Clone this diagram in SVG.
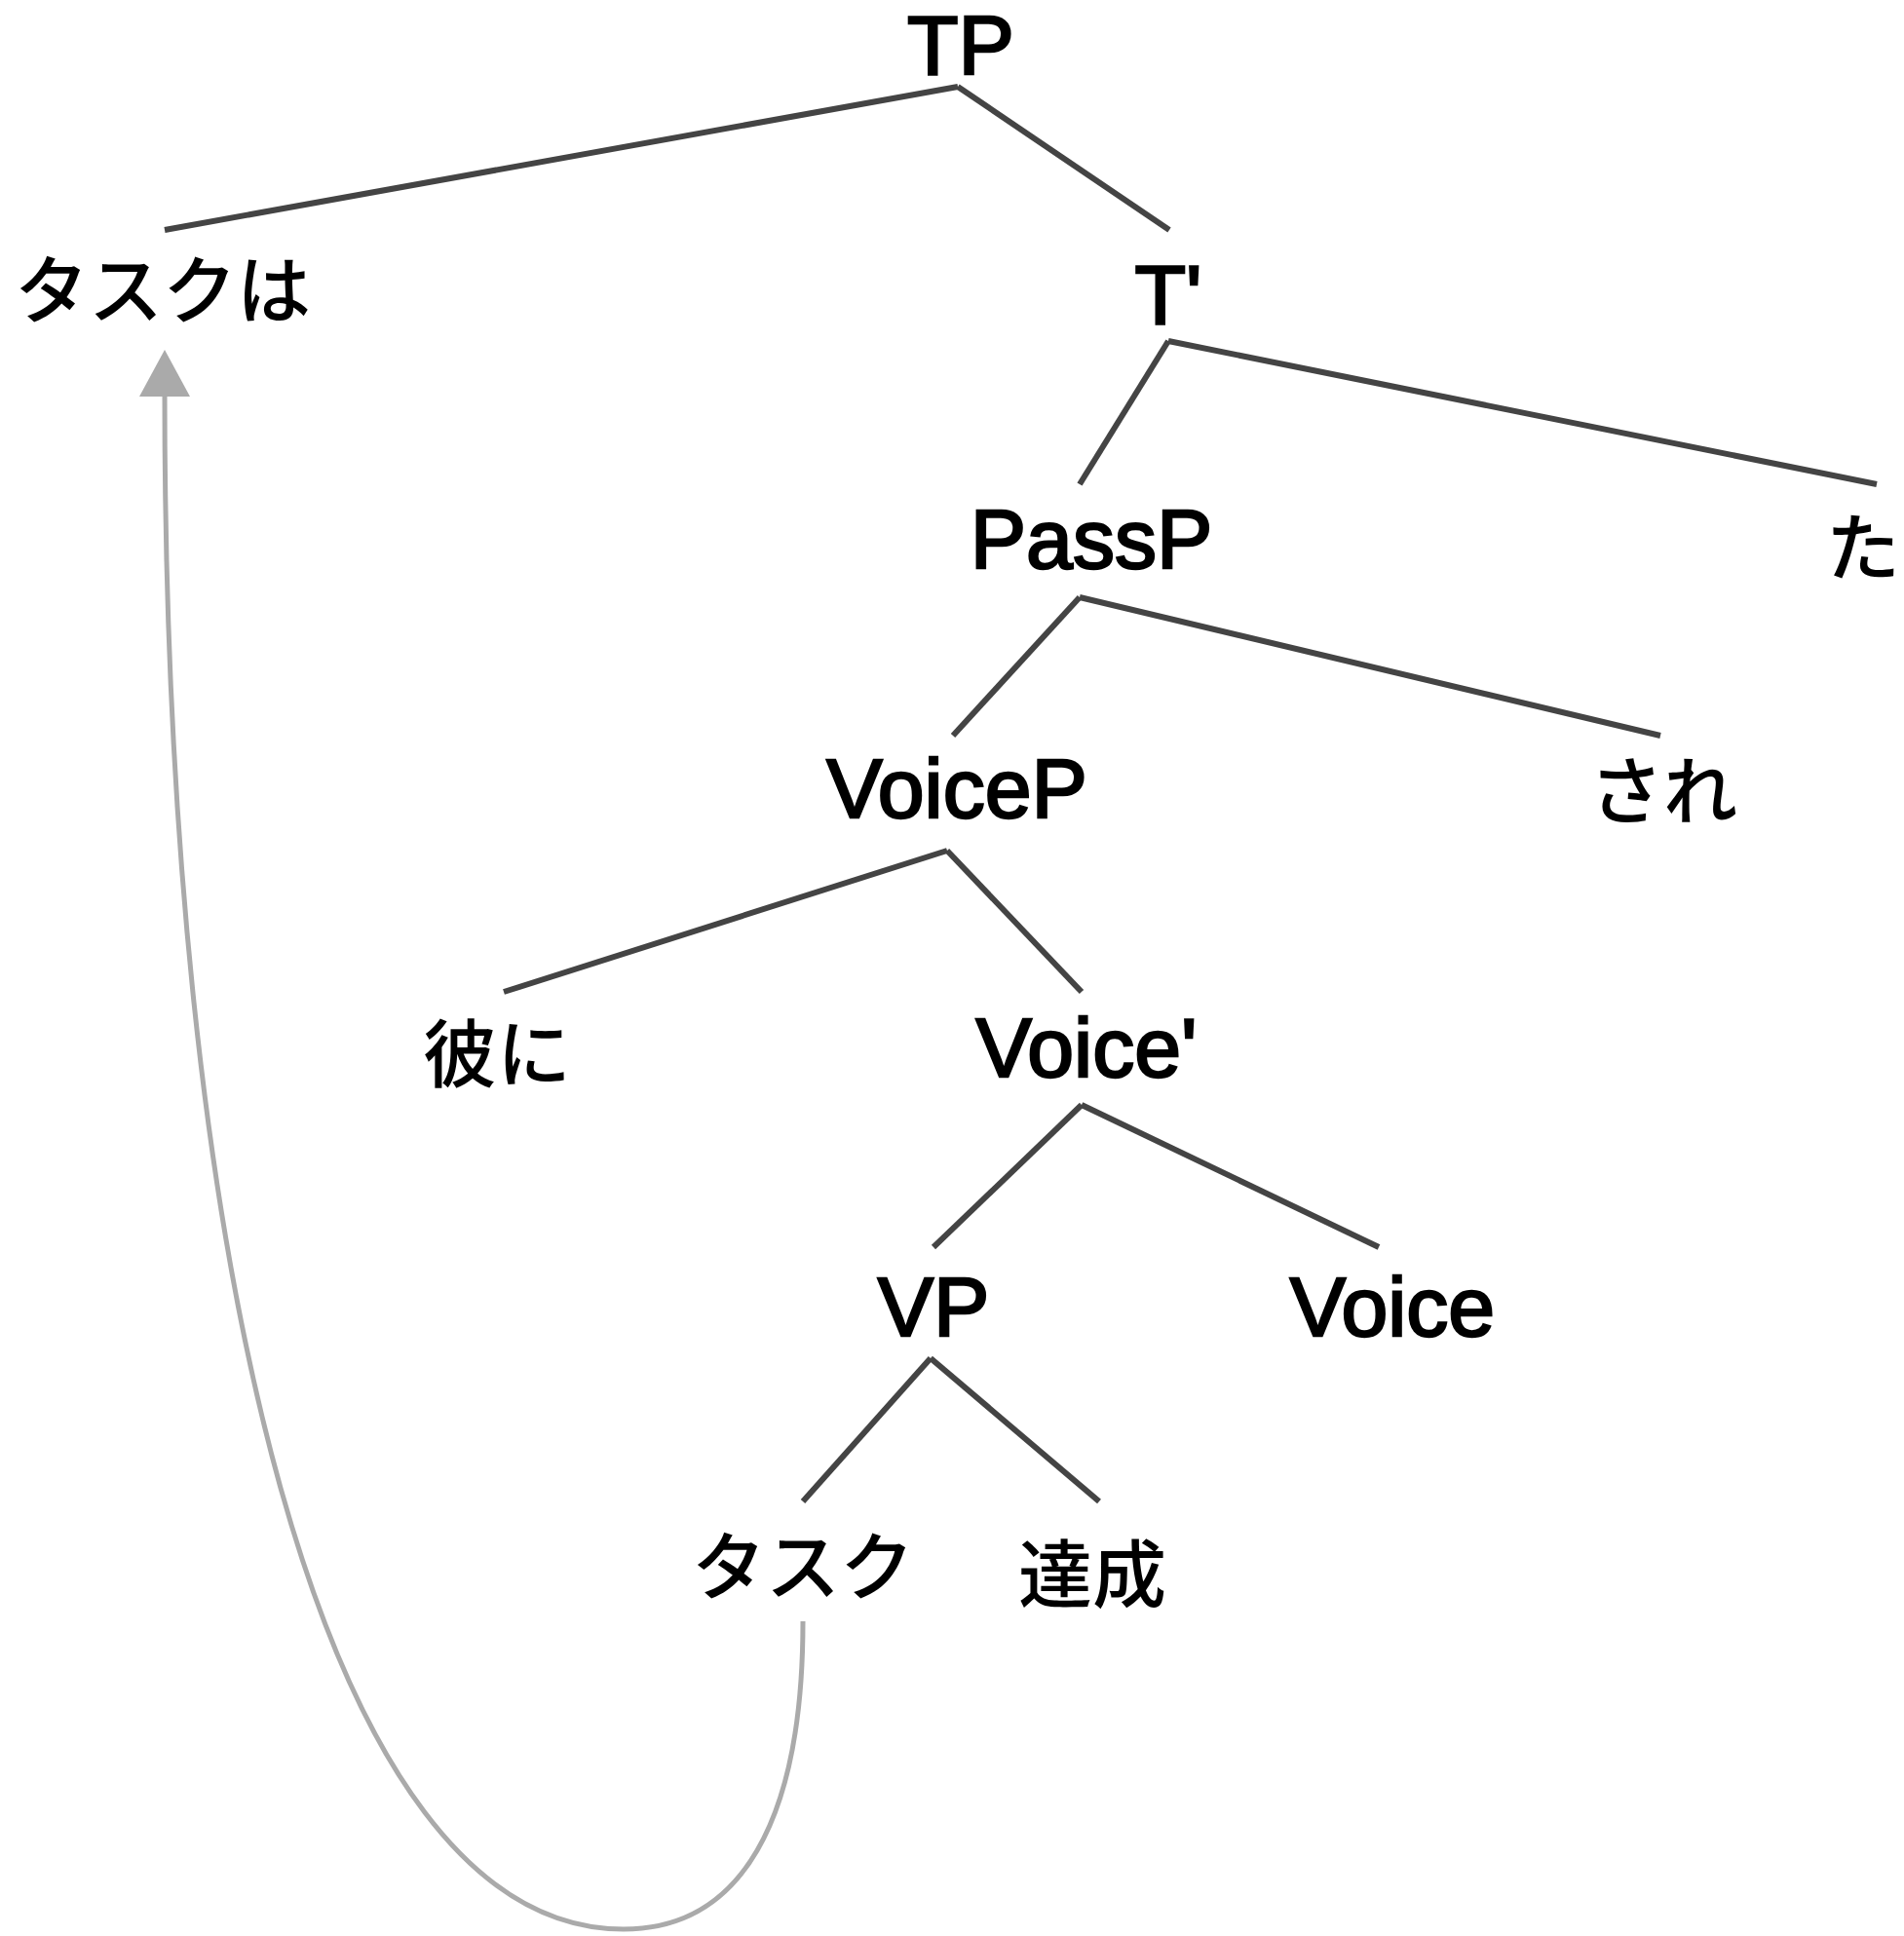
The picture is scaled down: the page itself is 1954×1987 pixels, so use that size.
<svg xmlns="http://www.w3.org/2000/svg" width="1954" height="1987" viewBox="0 0 1954 1987">
<style>
.lat{font-family:"Liberation Sans",Arial,sans-serif;font-size:86px;fill:#000;stroke:#000;stroke-width:2.5px;text-anchor:middle}
.jp{font-family:"Noto Sans CJK JP",sans-serif;font-size:76px;font-weight:500;fill:#000;text-anchor:middle}
.edge{stroke:#444;stroke-width:6;fill:none;stroke-linecap:butt}
.move{stroke:#aaa;stroke-width:5;fill:none}
</style>
<defs>
<marker id="ah" markerUnits="userSpaceOnUse" markerWidth="48" markerHeight="52" refX="2" refY="26" orient="auto">
<path d="M0,0 L48,26 L0,52 z" fill="#aaa"/>
</marker>
</defs>
<rect width="1954" height="1987" fill="#fff"/>
<g id="connectors">
<line class="edge" x1="983" y1="89" x2="169" y2="236"/>
<line class="edge" x1="983" y1="89" x2="1200" y2="236"/>
<line class="edge" x1="1199" y1="350" x2="1108" y2="497"/>
<line class="edge" x1="1199" y1="350" x2="1926" y2="497"/>
<line class="edge" x1="1108" y1="613" x2="978" y2="755"/>
<line class="edge" x1="1108" y1="613" x2="1704" y2="755"/>
<line class="edge" x1="972" y1="873" x2="517" y2="1018"/>
<line class="edge" x1="972" y1="873" x2="1110" y2="1018"/>
<line class="edge" x1="1110" y1="1134" x2="958" y2="1280"/>
<line class="edge" x1="1110" y1="1134" x2="1415" y2="1280"/>
<line class="edge" x1="955" y1="1394" x2="824" y2="1541"/>
<line class="edge" x1="955" y1="1394" x2="1128" y2="1541"/>
<path class="move" d="M824,1664 C824,1870 760,1980 640,1980 C330,1980 169,1300 169,405" marker-end="url(#ah)"/>
</g>
<g id="n-TP"><text class="lat" x="986" y="76">TP</text></g>
<g id="n-taskwa"><text class="jp" x="167" y="326">タスクは</text></g>
<g id="n-Tbar"><text class="lat" x="1199" y="332">T'</text></g>
<g id="n-PassP"><text class="lat" x="1120" y="583">PassP</text></g>
<g id="n-ta"><text class="jp" x="1912" y="590">た</text></g>
<g id="n-VoiceP"><text class="lat" x="982" y="839">VoiceP</text></g>
<g id="n-sare"><text class="jp" x="1707" y="840">され</text></g>
<g id="n-kareni"><text class="jp" x="510" y="1110">彼に</text></g>
<g id="n-Voicebar"><text class="lat" x="1115" y="1105">Voice'</text></g>
<g id="n-VP"><text class="lat" x="958" y="1371">VP</text></g>
<g id="n-Voice"><text class="lat" x="1429" y="1371">Voice</text></g>
<g id="n-task"><text class="jp" x="824" y="1636">タスク</text></g>
<g id="n-tassei"><text class="jp" x="1121" y="1644">達成</text></g>
</svg>
